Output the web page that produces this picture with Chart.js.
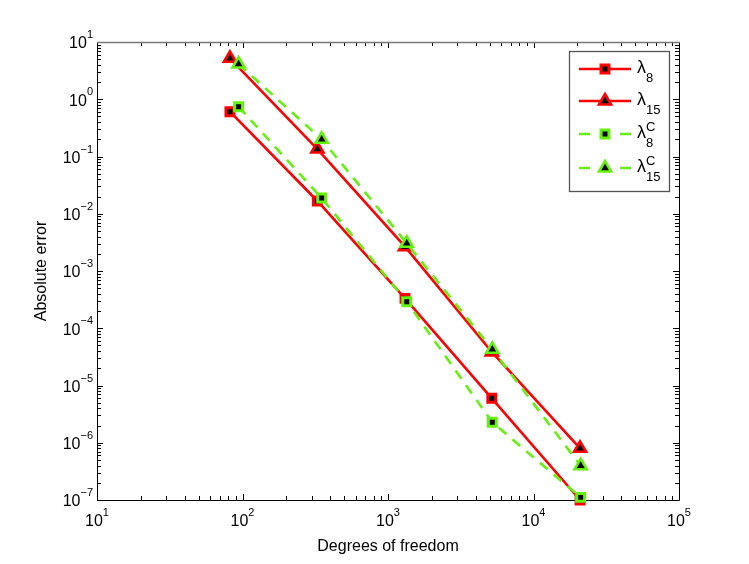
<!DOCTYPE html>
<html>
<head>
<meta charset="utf-8">
<title>Absolute error vs degrees of freedom</title>
<script src="https://cdn.jsdelivr.net/npm/chart.js@4.4.1/dist/chart.umd.min.js"></script>
<style>
  body { margin: 0; background: #fff; }
  #wrap { width: 749px; height: 564px; }
</style>
</head>
<body>
<div id="wrap"><canvas id="chart" width="749" height="564"></canvas></div>
<script>
// data
const dofLambda = [82, 327, 1309, 5170, 20900];
const dofLambdaC = [94, 350, 1346, 5210, 21100];
const errL8 = [0.606, 0.0167, 3.33e-4, 5.97e-6, 1.0e-7];
const errL15 = [5.19, 0.135, 2.66e-3, 3.85e-5, 8.0e-7];
const errL8C = [0.741, 0.0188, 2.91e-4, 2.28e-6, 1.11e-7];
const errL15C = [4.13, 0.2, 3.05e-3, 4.29e-5, 3.97e-7];
const xTickExps = [1, 2, 3, 4, 5];
const yTickExps = [1, 0, -1, -2, -3, -4, -5, -6, -7];
const seriesSub = ["8", "15", "8", "15"];
const seriesSup = ["", "", "C", "C"];

const RED = "#ff0000";
const GREEN = "#66f011";
const FONT = "Liberation Sans, Arial, sans-serif";

function pts(xs, ys) {
  return xs.map(function (x, i) { return { x: x, y: ys[i] }; });
}

function makeSet(label, data, color, style, dashed, order) {
  return {
    label: label,
    data: data,
    borderColor: color,
    borderWidth: 2.6,
    borderDash: dashed ? [10, 8] : [],
    pointStyle: style,
    pointRadius: style === "rect" ? 5.6 : 7,
    pointBorderWidth: style === "rect" ? 3 : 2.6,
    pointBorderColor: color,
    pointBackgroundColor: "#000",
    backgroundColor: "#000",
    fill: false,
    tension: 0,
    clip: false,
    order: order
  };
}

function supText(ctx, base, sup, x, y, align, size) {
  // "base" with a raised exponent, x is the anchor according to align
  ctx.font = size + "px " + FONT;
  var wb = ctx.measureText(base).width;
  ctx.font = Math.round(size * 0.7) + "px " + FONT;
  var ws = ctx.measureText(sup).width;
  var total = wb + ws;
  var left = align === "right" ? x - total : (align === "center" ? x - total / 2 : x);
  ctx.textAlign = "left";
  ctx.textBaseline = "middle";
  ctx.font = size + "px " + FONT;
  ctx.fillText(base, left, y);
  ctx.font = Math.round(size * 0.7) + "px " + FONT;
  ctx.fillText(sup, left + wb, y - size * 0.55);
}

const matlabAxes = {
  id: "matlabAxes",
  beforeDatasetsDraw: function (chart) {
    var ctx = chart.ctx, a = chart.chartArea;
    var xs = chart.scales.x, ys = chart.scales.y;
    ctx.save();
    ctx.strokeStyle = "#000";
    ctx.lineWidth = 1;
    // ticks inside the box, on all four sides
    ctx.beginPath();
    xTickExps.forEach(function (e, i) {
      for (var m = 1; m <= 9; m++) {
        if (m > 1 && i === xTickExps.length - 1) break;
        var px = Math.round(xs.getPixelForValue(m * Math.pow(10, e))) + 0.5;
        var len = m === 1 ? 6 : 4;
        ctx.moveTo(px, a.bottom); ctx.lineTo(px, a.bottom - len);
        ctx.moveTo(px, a.top); ctx.lineTo(px, a.top + len);
      }
    });
    yTickExps.forEach(function (e, i) {
      for (var m = 1; m <= 9; m++) {
        if (m > 1 && i === 0) break;
        var py = Math.round(ys.getPixelForValue(m * Math.pow(10, e))) + 0.5;
        var len = m === 1 ? 6 : 4;
        ctx.moveTo(a.left, py); ctx.lineTo(a.left + len, py);
        ctx.moveTo(a.right, py); ctx.lineTo(a.right - len, py);
      }
    });
    ctx.stroke();
    // box
    ctx.beginPath();
    ctx.moveTo(a.left + 0.5, a.top + 0.5);
    ctx.lineTo(a.left + 0.5, a.bottom + 0.5);
    ctx.lineTo(a.right + 0.5, a.bottom + 0.5);
    ctx.lineTo(a.right + 0.5, a.top + 0.5);
    ctx.stroke();
    ctx.strokeStyle = "#777";
    ctx.lineWidth = 1.5;
    ctx.beginPath();
    ctx.moveTo(a.left, a.top + 0.5);
    ctx.lineTo(a.right + 1, a.top + 0.5);
    ctx.stroke();

    // tick labels
    ctx.fillStyle = "#000";
    xTickExps.forEach(function (e) {
      var px = xs.getPixelForValue(Math.pow(10, e));
      supText(ctx, "10", String(e), px, a.bottom + 22, "center", 16);
    });
    yTickExps.forEach(function (e) {
      var py = ys.getPixelForValue(Math.pow(10, e));
      supText(ctx, "10", e < 0 ? "\u2212" + (-e) : String(e), a.left - 4, py + 2, "right", 16);
    });

    // axis titles
    ctx.font = "16px " + FONT;
    ctx.textAlign = "center";
    ctx.textBaseline = "middle";
    ctx.fillText("Degrees of freedom", (a.left + a.right) / 2, a.bottom + 47);
    ctx.save();
    ctx.translate(42, (a.top + a.bottom) / 2);
    ctx.rotate(-Math.PI / 2);
    ctx.fillText("Absolute error", 0, 0);
    ctx.restore();
    ctx.restore();
  },
  afterDraw: function (chart) {
    // legend box, top right inside the axes
    var ctx = chart.ctx;
    var bx = 569.5, by = 51.5, bw = 100, bh = 140;
    ctx.save();
    ctx.fillStyle = "#fff";
    ctx.fillRect(bx, by, bw, bh);
    ctx.strokeStyle = "#555";
    ctx.lineWidth = 1.3;
    ctx.strokeRect(bx, by, bw, bh);
    var rows = [69, 101, 134, 168];
    chart.data.datasets.forEach(function (ds, i) {
      var y = rows[i];
      ctx.strokeStyle = ds.borderColor;
      ctx.lineWidth = ds.borderWidth;
      ctx.setLineDash(ds.borderDash.length ? [11, 30] : []);
      ctx.beginPath();
      ctx.moveTo(579, y); ctx.lineTo(631, y);
      ctx.stroke();
      ctx.setLineDash([]);
      ctx.fillStyle = "#000";
      ctx.strokeStyle = ds.borderColor;
      ctx.lineWidth = ds.pointBorderWidth;
      Chart.helpers.drawPoint(ctx, {
        pointStyle: ds.pointStyle, radius: ds.pointRadius,
        rotation: 0, borderWidth: ds.pointBorderWidth
      }, 605, y);
      // label: lambda with subscript and superscript
      ctx.fillStyle = "#000";
      ctx.textAlign = "left";
      ctx.textBaseline = "middle";
      ctx.font = "18px " + FONT;
      ctx.fillText("\u03bb", 637, y - 1);
      var w = ctx.measureText("\u03bb").width;
      ctx.font = "13px " + FONT;
      ctx.fillText(seriesSub[i], 637 + w, y + 9);
      if (seriesSup[i]) ctx.fillText(seriesSup[i], 637 + w, y - 7);
    });
    ctx.restore();
  }
};

new Chart(document.getElementById("chart"), {
  type: "line",
  data: {
    datasets: [
      makeSet("l8", pts(dofLambda, errL8), RED, "rect", false, 4),
      makeSet("l15", pts(dofLambda, errL15), RED, "triangle", false, 3),
      makeSet("l8C", pts(dofLambdaC, errL8C), GREEN, "rect", true, 2),
      makeSet("l15C", pts(dofLambdaC, errL15C), GREEN, "triangle", true, 1)
    ]
  },
  options: {
    responsive: false,
    animation: false,
    devicePixelRatio: 1,
    layout: { padding: { left: 97, right: 70, top: 42, bottom: 64 } },
    plugins: { legend: { display: false }, tooltip: { enabled: false } },
    scales: {
      x: { type: "logarithmic", min: 10, max: 1e5, display: false },
      y: { type: "logarithmic", min: 1e-7, max: 10, display: false }
    }
  },
  plugins: [matlabAxes]
});
</script>
</body>
</html>
